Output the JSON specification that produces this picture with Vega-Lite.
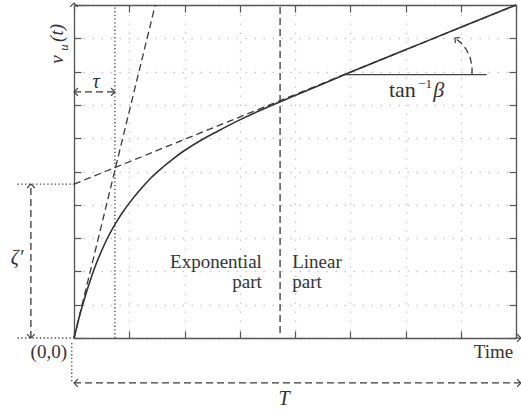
{
  "$schema": "https://vega.github.io/schema/vega-lite/v6.json",
  "width": 442,
  "height": 333,
  "autosize": {"type": "none"},
  "padding": {"left": 74, "top": 5, "right": 5, "bottom": 72},
  "background": "white",
  "config": {
    "view": {"stroke": null},
    "text": {"font": "Liberation Serif"},
    "axis": {
      "labels": false,
      "title": null,
      "domainColor": "#555",
      "domainWidth": 1.3,
      "tickColor": "#555",
      "tickWidth": 1.2,
      "tickSize": -7,
      "gridColor": "#c8c8c8",
      "gridDash": [1.5, 7.5],
      "gridWidth": 1.3
    }
  },
  "datasets": {
    "curve": [
      {"x": 0, "y": 0}, {"x": 0.05, "y": 0.33}, {"x": 0.1, "y": 0.66}, {"x": 0.2, "y": 1.24},
      {"x": 0.3, "y": 1.76}, {"x": 0.4, "y": 2.22}, {"x": 0.5, "y": 2.62}, {"x": 0.6, "y": 2.98},
      {"x": 0.7, "y": 3.29}, {"x": 0.8, "y": 3.57}, {"x": 0.9, "y": 3.82}, {"x": 1.0, "y": 4.05},
      {"x": 1.2, "y": 4.46}, {"x": 1.4, "y": 4.82}, {"x": 1.6, "y": 5.12}, {"x": 1.8, "y": 5.39},
      {"x": 2.0, "y": 5.63}, {"x": 2.3, "y": 5.94}, {"x": 2.6, "y": 6.21}, {"x": 3.0, "y": 6.55},
      {"x": 3.5, "y": 6.93}, {"x": 4.0, "y": 7.28}, {"x": 4.5, "y": 7.63}, {"x": 5.0, "y": 7.98},
      {"x": 6.0, "y": 8.655}, {"x": 7.0, "y": 9.33}, {"x": 8.0, "y": 10.0}
    ],
    "dashed": [
      {"g": "initialSlope", "i": 0, "x": 0, "y": 0},
      {"g": "initialSlope", "i": 1, "x": 1.47, "y": 10},
      {"g": "asymptote", "i": 0, "x": 0, "y": 4.62},
      {"g": "asymptote", "i": 1, "x": 8, "y": 10},
      {"g": "split", "i": 0, "x": 3.73, "y": 0.15},
      {"g": "split", "i": 1, "x": 3.73, "y": 10},
      {"g": "tauSpan", "i": 0, "x": 0, "y": 7.39},
      {"g": "tauSpan", "i": 1, "x": 0.74, "y": 7.39},
      {"g": "zetaSpan", "i": 0, "x": -0.78, "y": 0},
      {"g": "zetaSpan", "i": 1, "x": -0.78, "y": 4.62},
      {"g": "periodSpan", "i": 0, "x": 0, "y": -1.35},
      {"g": "periodSpan", "i": 1, "x": 8.08, "y": -1.35},
      {"g": "angleArc", "i": 0, "x": 7.204, "y": 7.91},
      {"g": "angleArc", "i": 1, "x": 7.204, "y": 8.168},
      {"g": "angleArc", "i": 2, "x": 7.167, "y": 8.438},
      {"g": "angleArc", "i": 3, "x": 7.095, "y": 8.679},
      {"g": "angleArc", "i": 4, "x": 7.005, "y": 8.859},
      {"g": "angleArc", "i": 5, "x": 6.896, "y": 9.009}
    ],
    "dotted": [
      {"g": "tauLine", "i": 0, "x": 0.74, "y": 0},
      {"g": "tauLine", "i": 1, "x": 0.74, "y": 10},
      {"g": "zetaLevel", "i": 0, "x": -1.02, "y": 4.62},
      {"g": "zetaLevel", "i": 1, "x": 0, "y": 4.62},
      {"g": "zeroLevel", "i": 0, "x": -1.02, "y": 0},
      {"g": "zeroLevel", "i": 1, "x": 0, "y": 0},
      {"g": "zeroDrop", "i": 0, "x": -0.04, "y": -0.15},
      {"g": "zeroDrop", "i": 1, "x": -0.04, "y": -1.3}
    ],
    "solid": [
      {"g": "betaBase", "i": 0, "x": 4.9, "y": 7.91},
      {"g": "betaBase", "i": 1, "x": 7.47, "y": 7.91},
      {"g": "timeAxisEnd", "i": 0, "x": 8, "y": 0},
      {"g": "timeAxisEnd", "i": 1, "x": 8.08, "y": 0}
    ],
    "arrows": [
      {"x": 0, "y": 10.06, "dir": "up"},
      {"x": 8.09, "y": 0, "dir": "right"},
      {"x": 0, "y": 7.39, "dir": "left"},
      {"x": 0.74, "y": 7.39, "dir": "right"},
      {"x": -0.78, "y": 4.62, "dir": "up"},
      {"x": -0.78, "y": 0, "dir": "down"},
      {"x": 0, "y": -1.35, "dir": "left"},
      {"x": 8.09, "y": -1.35, "dir": "right"}
    ],
    "labels": [
      {"k": "it", "text": "τ", "x": 0.4, "y": 7.51},
      {"k": "it", "text": "ζ′", "x": -1.03, "y": 2.22},
      {"k": "it", "text": "T", "x": 3.8, "y": -2.01},
      {"k": "r", "text": "Exponential", "x": 3.4, "y": 2.1},
      {"k": "r", "text": "part", "x": 3.4, "y": 1.5},
      {"k": "r", "text": "(0,0)", "x": -0.127, "y": -0.6},
      {"k": "r", "text": "Time", "x": 7.95, "y": -0.6},
      {"k": "l", "text": "Linear", "x": 3.95, "y": 2.1},
      {"k": "l", "text": "part", "x": 3.95, "y": 1.5},
      {"k": "tan", "text": "tan", "x": 5.7, "y": 7.24},
      {"k": "beta", "text": "β", "x": 6.5, "y": 7.24},
      {"k": "sup", "text": "−1", "x": 6.23, "y": 7.51},
      {"k": "vert", "text": "v", "x": -0.2, "y": 8.36},
      {"k": "vert", "text": "(t)", "x": -0.2, "y": 9.16},
      {"k": "sub", "text": "u", "x": -0.11, "y": 8.72}
    ]
  },
  "encoding": {
    "x": {"field": "x", "type": "quantitative", "scale": {"domain": [0, 8], "nice": false, "zero": false}, "axis": null},
    "y": {"field": "y", "type": "quantitative", "scale": {"domain": [0, 10], "nice": false, "zero": false}, "axis": null}
  },
  "resolve": {"axis": {"x": "independent", "y": "independent"}},
  "layer": [
    {
      "data": {"name": "dotted"},
      "mark": {"type": "line", "stroke": "#444", "strokeWidth": 1.3, "strokeDash": [1.3, 2.4]},
      "encoding": {
        "x": {"field": "x", "type": "quantitative", "scale": {"domain": [0, 8], "nice": false, "zero": false},
              "axis": {"orient": "bottom", "values": [0, 1, 2, 3, 4, 5, 6, 7, 8], "grid": true}},
        "y": {"field": "y", "type": "quantitative", "scale": {"domain": [0, 10], "nice": false, "zero": false},
              "axis": {"orient": "left", "values": [0, 1, 2, 3, 4, 5, 6, 7, 8, 9, 10], "grid": true}},
        "detail": {"field": "g"},
        "order": {"field": "i"}
      }
    },
    {
      "data": {"name": "dashed"},
      "mark": {"type": "line", "stroke": "#3a3a3a", "strokeWidth": 1.3, "strokeDash": [7, 4]},
      "encoding": {
        "x": {"field": "x", "type": "quantitative", "scale": {"domain": [0, 8], "nice": false, "zero": false},
              "axis": {"orient": "top", "values": [0, 1, 2, 3, 4, 5, 6, 7, 8], "grid": false}},
        "y": {"field": "y", "type": "quantitative", "scale": {"domain": [0, 10], "nice": false, "zero": false},
              "axis": {"orient": "right", "values": [0, 1, 2, 3, 4, 5, 6, 7, 8, 9, 10], "grid": false}},
        "detail": {"field": "g"},
        "order": {"field": "i"}
      }
    },
    {
      "data": {"name": "solid"},
      "mark": {"type": "line", "stroke": "#444", "strokeWidth": 1.3},
      "encoding": {"detail": {"field": "g"}, "order": {"field": "i"}}
    },
    {
      "data": {"name": "curve"},
      "mark": {"type": "line", "stroke": "#333", "strokeWidth": 1.6, "interpolate": "monotone"},
      "encoding": {}
    },
    {
      "data": {"name": "arrows"},
      "mark": {"type": "point", "filled": false, "stroke": "#444", "strokeWidth": 1.2, "opacity": 1, "size": 60},
      "encoding": {
        "shape": {
          "field": "dir", "type": "nominal", "legend": null,
          "scale": {
            "domain": ["up", "down", "left", "right"],
            "range": ["M-1,1L0,0L1,1", "M-1,-1L0,0L1,-1", "M1,-1L0,0L1,1", "M-1,-1L0,0L-1,1"]
          }
        }
      }
    },
    {
      "data": {"values": [{"x": 6.896, "y": 9.009}]},
      "mark": {"type": "point", "shape": "M1,-1L0,0L1,1", "angle": 40, "filled": false, "stroke": "#444", "strokeWidth": 1.2, "opacity": 1, "size": 50},
      "encoding": {}
    },
    {
      "data": {"name": "labels"},
      "transform": [{"filter": "datum.k == 'it'"}],
      "mark": {"type": "text", "fontStyle": "italic", "fontSize": 20, "fill": "#333", "align": "center", "baseline": "alphabetic"},
      "encoding": {"text": {"field": "text"}}
    },
    {
      "data": {"name": "labels"},
      "transform": [{"filter": "datum.k == 'r'"}],
      "mark": {"type": "text", "fontSize": 19, "fill": "#333", "align": "right", "baseline": "alphabetic"},
      "encoding": {"text": {"field": "text"}}
    },
    {
      "data": {"name": "labels"},
      "transform": [{"filter": "datum.k == 'l'"}],
      "mark": {"type": "text", "fontSize": 19, "fill": "#333", "align": "left", "baseline": "alphabetic"},
      "encoding": {"text": {"field": "text"}}
    },
    {
      "data": {"name": "labels"},
      "transform": [{"filter": "datum.k == 'tan'"}],
      "mark": {"type": "text", "fontSize": 22, "fill": "#333", "align": "left", "baseline": "alphabetic"},
      "encoding": {"text": {"field": "text"}}
    },
    {
      "data": {"name": "labels"},
      "transform": [{"filter": "datum.k == 'beta'"}],
      "mark": {"type": "text", "fontStyle": "italic", "fontSize": 22, "fill": "#333", "align": "left", "baseline": "alphabetic"},
      "encoding": {"text": {"field": "text"}}
    },
    {
      "data": {"name": "labels"},
      "transform": [{"filter": "datum.k == 'sup'"}],
      "mark": {"type": "text", "fontSize": 13, "fill": "#333", "align": "left", "baseline": "alphabetic"},
      "encoding": {"text": {"field": "text"}}
    },
    {
      "data": {"name": "labels"},
      "transform": [{"filter": "datum.k == 'vert'"}],
      "mark": {"type": "text", "fontStyle": "italic", "fontSize": 19, "fill": "#333", "align": "center", "baseline": "alphabetic", "angle": 270},
      "encoding": {"text": {"field": "text"}}
    },
    {
      "data": {"name": "labels"},
      "transform": [{"filter": "datum.k == 'sub'"}],
      "mark": {"type": "text", "fontStyle": "italic", "fontSize": 13, "fill": "#333", "align": "center", "baseline": "alphabetic", "angle": 270},
      "encoding": {"text": {"field": "text"}}
    }
  ]
}
